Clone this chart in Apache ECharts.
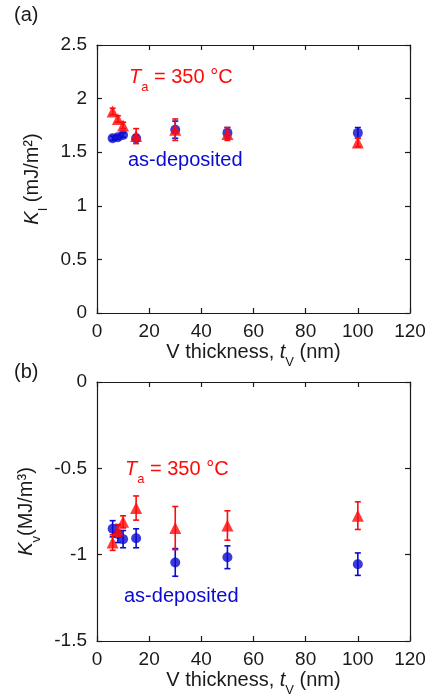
<!DOCTYPE html>
<html><head><meta charset="utf-8">
<script src="https://cdn.jsdelivr.net/npm/echarts@6/dist/echarts.min.js"></script>
<style>html,body{margin:0;padding:0;background:#fff}#c{width:433px;height:698px}</style>
</head><body><div id="c"></div>
<script>
// ---- data ----
var xMin = 0, xMax = 120, xStep = 20;
// panel (a): K_I (mJ/m^2)
var aBlueX = [6, 8, 10, 15, 30, 50, 100];
var aBlueY = [1.63, 1.64, 1.66, 1.63, 1.71, 1.68, 1.68];
var aBlueE = [0.02, 0.02, 0.02, 0.03, 0.08, 0.05, 0.05];
var aRedX = [6, 8, 10, 15, 30, 50, 100];
var aRedY = [1.88, 1.81, 1.75, 1.65, 1.71, 1.67, 1.59];
var aRedE = [0.03, 0.03, 0.03, 0.07, 0.10, 0.06, 0.04];
// panel (b): K_v (MJ/m^3)
var bBlueX = [6, 8, 10, 15, 30, 50, 100];
var bBlueY = [-0.85, -0.88, -0.91, -0.905, -1.045, -1.015, -1.055];
var bBlueE = [0.047, 0.05, 0.05, 0.055, 0.08, 0.066, 0.065];
var bRedX = [6, 8, 10, 15, 30, 50, 100];
var bRedY = [-0.93, -0.86, -0.81, -0.73, -0.846, -0.831, -0.774];
var bRedE = [0.045, 0.035, 0.035, 0.07, 0.125, 0.085, 0.08];

var RED = '#ff0a0a', BLUE = '#0a0ad2', TXT = '#1a1a1a';
var FONT = 'Liberation Sans, Arial, sans-serif';

function pts(xs, ys) { return xs.map(function (x, i) { return [x, ys[i]]; }); }
function errs(xs, ys, es) { return xs.map(function (x, i) { return [x, ys[i], es[i]]; }); }

function errRender(color) {
  return function (params, api) {
    var x = api.value(0), y = api.value(1), e = api.value(2);
    var hi = api.coord([x, y + e]), lo = api.coord([x, y - e]);
    var c = 3;
    var st = { stroke: color, lineWidth: 1.6 };
    return { type: 'group', children: [
      { type: 'line', shape: { x1: lo[0], y1: lo[1], x2: hi[0], y2: hi[1] }, style: st },
      { type: 'line', shape: { x1: hi[0] - c, y1: hi[1], x2: hi[0] + c, y2: hi[1] }, style: st },
      { type: 'line', shape: { x1: lo[0] - c, y1: lo[1], x2: lo[0] + c, y2: lo[1] }, style: st }
    ] };
  };
}

function richSet(color) {
  return {
    n: { fontSize: 20, fontFamily: FONT, color: color, fill: color, lineHeight: 34 },
    i: { fontSize: 20, fontFamily: FONT, color: color, fill: color, fontStyle: 'italic', lineHeight: 34 },
    s: { fontSize: 13, fontFamily: FONT, color: color, fill: color, verticalAlign: 'bottom', lineHeight: 9 }
  };
}

function xAx(gi, top) {
  return {
    type: 'value', gridIndex: gi, min: xMin, max: xMax, interval: xStep,
    position: top ? 'top' : 'bottom',
    axisLine: { onZero: false, lineStyle: { color: TXT, width: 1.2 } },
    axisTick: { inside: true, length: 5, lineStyle: { color: TXT, width: 1.2 } },
    axisLabel: { show: !top, fontSize: 19, fontFamily: FONT, color: TXT, margin: 9 },
    splitLine: { show: false },
    name: top ? '' : '{n|V thickness, }{i|t}{s|V}{n| (nm)}',
    nameLocation: 'middle', nameGap: 22,
    nameTextStyle: { rich: richSet(TXT) }
  };
}
function yAx(gi, right, min, max, name) {
  return {
    type: 'value', gridIndex: gi, min: min, max: max, interval: 0.5,
    position: right ? 'right' : 'left',
    axisLine: { onZero: false, lineStyle: { color: TXT, width: 1.2 } },
    axisTick: { inside: true, length: 5, lineStyle: { color: TXT, width: 1.2 } },
    axisLabel: { show: !right, fontSize: 19, fontFamily: FONT, color: TXT, margin: 10 },
    splitLine: { show: false },
    name: right ? '' : name,
    nameLocation: 'middle', nameGap: 40, nameRotate: 90,
    nameTextStyle: { rich: richSet(TXT) }
  };
}

function annot(x, y, text, color) {
  return { type: 'text', x: x, y: y, style: { text: text, fill: color, rich: richSet(color) } };
}

var chart = echarts.init(document.getElementById('c'), null, { renderer: 'canvas' });
chart.setOption({
  animation: false,
  backgroundColor: '#fff',
  grid: [
    { left: 97, top: 45, width: 313, height: 268 },
    { left: 97, top: 382, width: 313, height: 265 }
  ],
  xAxis: [xAx(0, false), xAx(0, true), xAx(1, false), xAx(1, true)],
  yAxis: [
    yAx(0, false, 0, 2.5, '{i|K}{s|I}{n| (mJ/m²)}'),
    yAx(0, true, 0, 2.5, ''),
    yAx(1, false, -1.5, 0, '{i|K}{s|v}{n|(MJ/m³)}'),
    yAx(1, true, -1.5, 0, '')
  ],
  series: [
    { type: 'custom', xAxisIndex: 0, yAxisIndex: 0, renderItem: errRender(BLUE), data: errs(aBlueX, aBlueY, aBlueE), z: 2 },
    { type: 'scatter', xAxisIndex: 0, yAxisIndex: 0, symbol: 'circle', symbolSize: 10, itemStyle: { color: BLUE }, data: pts(aBlueX, aBlueY), z: 3 },
    { type: 'custom', xAxisIndex: 0, yAxisIndex: 0, renderItem: errRender(RED), data: errs(aRedX, aRedY, aRedE), z: 4 },
    { type: 'scatter', xAxisIndex: 0, yAxisIndex: 0, symbol: 'triangle', symbolSize: 12, itemStyle: { color: RED }, data: pts(aRedX, aRedY), z: 5 },
    { type: 'custom', xAxisIndex: 2, yAxisIndex: 2, renderItem: errRender(BLUE), data: errs(bBlueX, bBlueY, bBlueE), z: 2 },
    { type: 'scatter', xAxisIndex: 2, yAxisIndex: 2, symbol: 'circle', symbolSize: 10, itemStyle: { color: BLUE }, data: pts(bBlueX, bBlueY), z: 3 },
    { type: 'custom', xAxisIndex: 2, yAxisIndex: 2, renderItem: errRender(RED), data: errs(bRedX, bRedY, bRedE), z: 4 },
    { type: 'scatter', xAxisIndex: 2, yAxisIndex: 2, symbol: 'triangle', symbolSize: 12, itemStyle: { color: RED }, data: pts(bRedX, bRedY), z: 5 }
  ],
  graphic: [
    { type: 'text', x: 14, y: 5, style: { text: '(a)', font: '20px ' + FONT, fill: TXT } },
    { type: 'text', x: 14, y: 362, style: { text: '(b)', font: '20px ' + FONT, fill: TXT } },
    annot(129, 60, '{i|T}{s|a}{n| = 350 °C}', RED),
    annot(128, 143, '{n|as-deposited}', BLUE),
    annot(125, 452, '{i|T}{s|a}{n| = 350 °C}', RED),
    annot(124, 579, '{n|as-deposited}', BLUE)
  ]
});
</script></body></html>
